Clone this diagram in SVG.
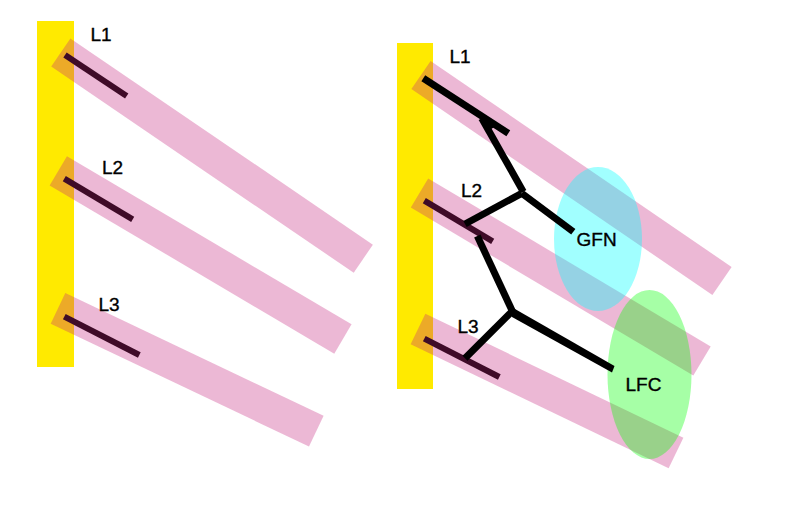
<svg xmlns="http://www.w3.org/2000/svg" width="800" height="514" viewBox="0 0 800 514">
<style>
.bar{fill:#ffea00}
.band{stroke:rgb(196,34,125);stroke-opacity:0.32;stroke-width:34;fill:none}
.dk{stroke:#000;stroke-width:6;fill:none}
.tr{stroke:#000;stroke-width:7;fill:none;stroke-linecap:butt}
.lbl{font-family:"Liberation Sans",Arial,sans-serif;font-size:19px;fill:#000;stroke:#000;stroke-width:0.35}
</style>
<rect width="800" height="514" fill="#fff"/>
<g id="left-panel">
  <rect class="bar" x="37" y="21" width="37" height="346"/>
  <line class="dk" x1="65" y1="55" x2="126.7" y2="96"/>
  <line class="dk" x1="64.3" y1="178.7" x2="132.7" y2="219.3"/>
  <line class="dk" x1="64.3" y1="316.7" x2="139.3" y2="355"/>
  <line class="band" x1="60.8" y1="52.5" x2="363.3" y2="258.7"/>
  <line class="band" x1="58.3" y1="170.8" x2="342.9" y2="339"/>
  <line class="band" x1="58" y1="308.3" x2="316.3" y2="431.2"/>
  <text class="lbl" x="90.5" y="40.5">L1</text>
  <text class="lbl" x="102" y="174">L2</text>
  <text class="lbl" x="98.5" y="311">L3</text>
</g>
<g id="right-panel">
  <rect class="bar" x="397" y="43" width="36" height="346"/>
  <line class="dk" x1="424.3" y1="200.7" x2="492.7" y2="241.3"/>
  <line class="dk" x1="424.3" y1="338.7" x2="499.3" y2="377"/>
  <line class="band" x1="421" y1="75" x2="722" y2="281"/>
  <line class="band" x1="419.5" y1="193" x2="702" y2="361"/>
  <line class="band" x1="418" y1="329" x2="676" y2="453"/>
  <text class="lbl" x="449.5" y="62.5">L1</text>
  <text class="lbl" x="461" y="196.5">L2</text>
  <text class="lbl" x="457.5" y="333">L3</text>
</g>
<g id="GFN">
  <ellipse cx="598" cy="239" rx="44" ry="72" fill="#00ffff" fill-opacity="0.37"/>
  <text class="lbl" x="576.5" y="246">GFN</text>
</g>
<g id="LFC">
  <ellipse cx="649.5" cy="374.5" rx="42" ry="84.5" fill="#00ff00" fill-opacity="0.35"/>
  <text class="lbl" x="625.5" y="391">LFC</text>
</g>
<g id="connectors">
  <line class="tr" x1="423.3" y1="78.3" x2="508.3" y2="133.3"/>
  <line class="tr" x1="523.3" y1="191.7" x2="481.7" y2="118.3"/>
  <polygon points="478,114 496,126 488,131" fill="#000"/>
  <line class="tr" x1="521.7" y1="193.3" x2="465" y2="224"/>
  <line class="tr" x1="521.7" y1="193.3" x2="573.3" y2="231.7"/>
  <line class="tr" x1="477.3" y1="236" x2="512.5" y2="311.5"/>
  <line class="tr" x1="511.7" y1="311.7" x2="465" y2="358.3"/>
  <polygon points="508,305 512,317 612,372.5 614.5,366" fill="#000"/>
</g>
</svg>
